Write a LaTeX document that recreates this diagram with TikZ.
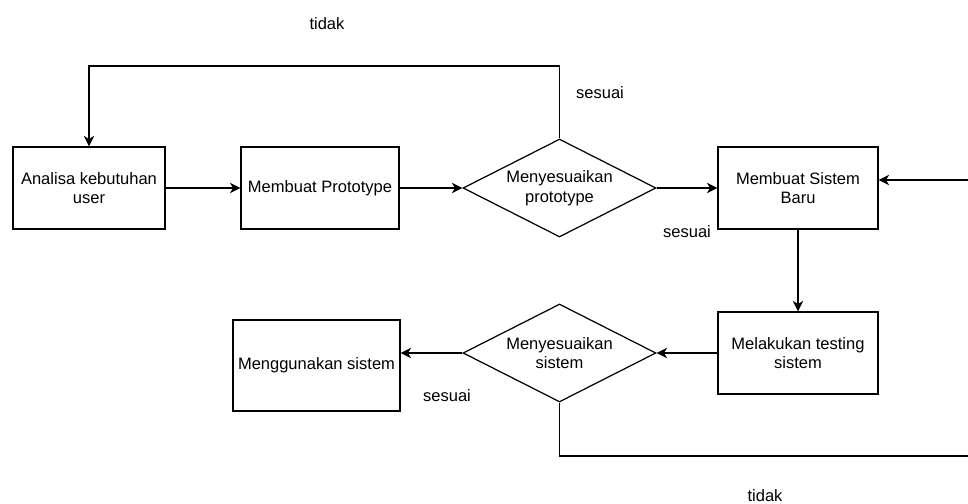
\documentclass[tikz,border=0pt]{standalone}
\usepackage{fontspec}
\setmainfont{Liberation Sans}
\usetikzlibrary{shapes.geometric,arrows.meta}

\begin{document}
\begin{tikzpicture}[x=0.02cm, y=-0.02cm,
    font=\fontsize{9.4}{11.2}\selectfont,
    every path/.style={line width=0.7pt},
    arr/.style={-{Stealth[length=6pt,width=6pt,inset=1.8pt]}},
    proc/.style={draw, rectangle, align=center, inner sep=1pt,
        minimum height=1.64cm},
    cond/.style={draw, diamond, align=center, inner sep=0pt, shape aspect=2,
        minimum width=3.86cm, minimum height=1.96cm}]
    \useasboundingbox (0,0) rectangle (968,504);

    % Prototype stage
    \node[proc, minimum width=3.04cm] (analisa) at (89,188) {Analisa kebutuhan\\user};
    \node[proc, minimum width=3.16cm] (proto) at (320,188) {Membuat Prototype};
    \node[cond] (cekproto) at (559.5,188) {Menyesuaikan\\prototype};
    \node[proc, minimum width=3.2cm] (sistem) at (798,188) {Membuat Sistem\\Baru};

    % System stage
    \node[proc, minimum width=3.2cm] (testing) at (798,353) {Melakukan testing\\sistem};
    \node[cond] (ceksistem) at (559.5,353) {Menyesuaikan\\sistem};
    \node[proc, minimum width=3.34cm, minimum height=1.82cm] (pakai) at (316.5,365.5) {Menggunakan sistem};

    \coordinate (loopT) at (559.5,66);
    \coordinate (edgeB) at (968,456);
    \coordinate (edgeT) at (968,180);

    \draw[arr] (analisa) -- (proto);
    \draw[arr] (proto) -- (cekproto);
    \draw[arr] (cekproto) -- (sistem);
    \draw[arr] (cekproto.north) -- (loopT) -| (analisa.north);
    \draw[arr] (sistem) -- (testing);
    \draw[arr] (testing) -- (ceksistem);
    \draw[arr] (ceksistem.west) -- (ceksistem.west -| pakai.east);
    \draw (ceksistem.south) |- (edgeB);
    \draw[arr] (edgeT) -- (edgeT -| sistem.east);

    % labels
    \node (tidak1) at (327,24) {tidak};
    \node (sesuai1) at (600,93) {sesuai};
    \node (sesuai2) at (687,232) {sesuai};
    \node (sesuai3) at (447,396) {sesuai};
    \node (tidak2) at (765,496) {tidak};
\end{tikzpicture}
\end{document}
